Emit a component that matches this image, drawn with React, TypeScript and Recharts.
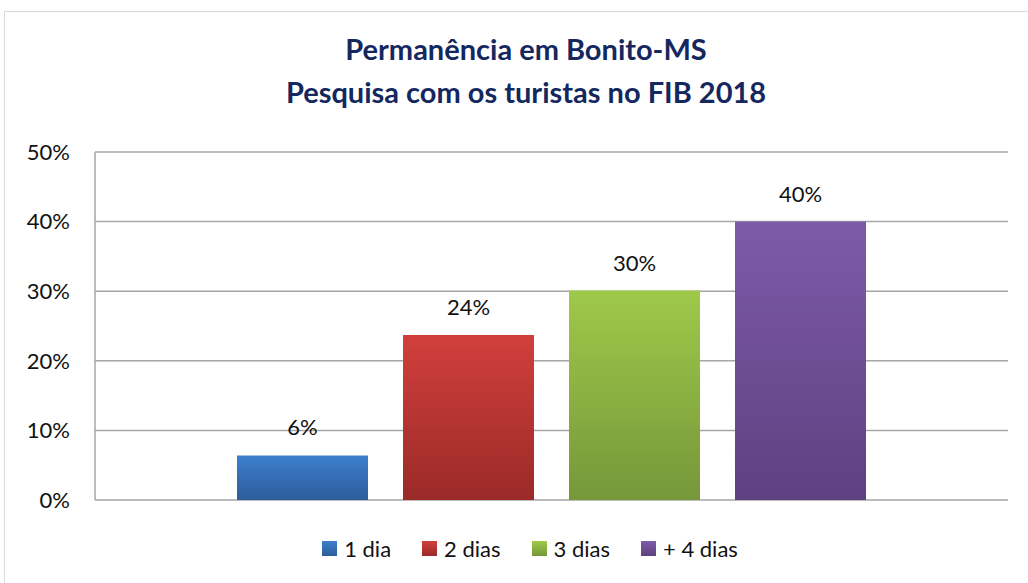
import { Bar, BarChart, CartesianGrid, LabelList, Legend, XAxis, YAxis } from 'recharts'

const categories = ['Permanência']
const seriesNames = ['1 dia', '2 dias', '3 dias', '+ 4 dias']
const seriesValues = [6.4, 23.7, 30.1, 40.0]
const yTicks = [0, 10, 20, 30, 40, 50]

const gradients = [
  { id: 'g1', top: '#3d7fcc', bottom: '#2d5d9c' },
  { id: 'g2', top: '#d13f3c', bottom: '#9a2a28' },
  { id: 'g3', top: '#9fc94a', bottom: '#76973a' },
  { id: 'g4', top: '#7e5aa9', bottom: '#5d4180' },
]

const data = categories.map((c) => {
  const row: { [key: string]: string | number } = { name: c }
  seriesNames.forEach((s, i) => {
    row[s] = seriesValues[i]
  })
  return row
})

const font = 'Lato, "Open Sans", sans-serif'

const LegendContent = () => (
  <div
    style={{
      display: 'flex',
      justifyContent: 'center',
      alignItems: 'center',
      fontSize: 22,
      fontFamily: font,
      color: '#111',
      gap: 31,
      paddingLeft: 52,
    }}
  >
    {seriesNames.map((s, i) => (
      <div key={s} style={{ display: 'flex', alignItems: 'center', gap: 7 }}>
        <svg width={15} height={15}>
          <rect width={15} height={15} fill={`url(#${gradients[i].id})`} />
        </svg>
        <span>{s}</span>
      </div>
    ))}
  </div>
)

export default function App() {
  return (
    <div
      style={{
        position: 'absolute',
        left: 0,
        top: 0,
        width: 1028,
        height: 583,
        background: '#fff',
        fontFamily: font,
      }}
    >
      <div
        style={{
          position: 'absolute',
          left: 4,
          top: 11,
          width: 1030,
          height: 580,
          border: '1.5px solid #d9d9d9',
          boxSizing: 'border-box',
        }}
      />
      <div
        style={{
          position: 'absolute',
          left: 4,
          top: 27,
          width: 1044,
          textAlign: 'center',
          color: '#14285f',
          fontWeight: 700,
          fontSize: 29,
          lineHeight: '43px',
        }}
      >
        Permanência em Bonito-MS
        <br />
        Pesquisa com os turistas no FIB 2018
      </div>
      <BarChart
        width={1028}
        height={583}
        data={data}
        margin={{ top: 152, right: 20, left: 0, bottom: 56 }}
        barSize={131}
        barGap={35}
        style={{ position: 'absolute', left: 0, top: 0 }}
      >
        <defs>
          {gradients.map((g) => (
            <linearGradient key={g.id} id={g.id} x1="0" y1="0" x2="0" y2="1">
              <stop offset="0%" stopColor={g.top} />
              <stop offset="100%" stopColor={g.bottom} />
            </linearGradient>
          ))}
        </defs>
        <CartesianGrid vertical={false} stroke="#a6a6a6" strokeWidth={1.5} />
        <XAxis dataKey="name" hide />
        <YAxis
          width={95}
          domain={[0, 50]}
          ticks={yTicks}
          tickFormatter={(v) => `${v}%`}
          tickLine={false}
          tickMargin={19}
          axisLine={{ stroke: '#a6a6a6', strokeWidth: 1.5 }}
          tick={{ fill: '#111', fontSize: 22, fontFamily: font }}
        />
        <Legend
          verticalAlign="bottom"
          align="center"
          content={<LegendContent />}
          wrapperStyle={{ bottom: 21 }}
        />
        {seriesNames.map((s, i) => (
          <Bar
            key={s}
            dataKey={s}
            fill={`url(#${gradients[i].id})`}
            isAnimationActive={false}
          >
            <LabelList
              dataKey={s}
              position="top"
              offset={20}
              formatter={(v: number) => `${Math.round(v)}%`}
              style={{ fill: '#111', fontSize: 22, fontFamily: font }}
            />
          </Bar>
        ))}
      </BarChart>
    </div>
  )
}
